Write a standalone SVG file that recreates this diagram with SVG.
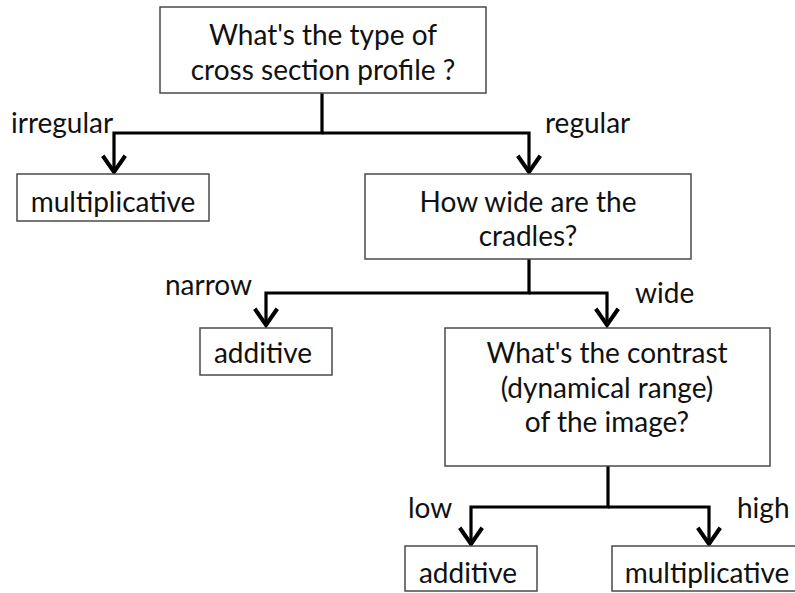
<svg xmlns="http://www.w3.org/2000/svg" width="795" height="593" viewBox="0 0 795 593">
<style>
.box{fill:#fff;stroke:#4a4a4a;stroke-width:1.5}
.t{font-family:Lato,"Open Sans","Liberation Sans",sans-serif;font-size:28px;fill:#111;text-anchor:middle}
.l{font-family:Lato,"Open Sans","Liberation Sans",sans-serif;font-size:28px;fill:#111}
.c{fill:none;stroke:#000;stroke-width:3.2;stroke-linejoin:miter}
</style>
<defs>
<marker id="arr" markerUnits="userSpaceOnUse" markerWidth="30" markerHeight="30" viewBox="-16 -12 20 24" refX="0" refY="0" orient="auto" overflow="visible">
<path d="M-13,-9 L0,0 L-13,9" fill="none" stroke="#000" stroke-width="3.2"/>
</marker>
</defs>
<rect width="795" height="593" fill="#fff"/>
<g id="connectors">
<path class="c" d="M322,93 V133 H114 V172" marker-end="url(#arr)"/>
<path class="c" d="M322,133 H529 V172" marker-end="url(#arr)"/>
<path class="c" d="M529,259 V293 H266 V325" marker-end="url(#arr)"/>
<path class="c" d="M529,293 H607 V325" marker-end="url(#arr)"/>
<path class="c" d="M608,466 V507 H471 V544" marker-end="url(#arr)"/>
<path class="c" d="M608,507 H709 V544" marker-end="url(#arr)"/>
</g>
<g id="labels">
<text class="l" x="11" y="133">irregular</text>
<text class="l" x="545" y="133">regular</text>
<text class="l" x="165" y="295">narrow</text>
<text class="l" x="635" y="303">wide</text>
<text class="l" x="408" y="518">low</text>
<text class="l" x="737" y="518">high</text>
</g>
<g id="q1">
<rect class="box" x="160" y="7" width="326" height="86"/>
<text class="t" x="323" y="45">What's the type of</text>
<text class="t" x="323" y="80">cross section profile ?</text>
</g>
<g id="mult1">
<rect class="box" x="17" y="174" width="192" height="47"/>
<text class="t" x="113" y="212">multiplicative</text>
</g>
<g id="q2">
<rect class="box" x="365" y="174" width="326" height="85"/>
<text class="t" x="528" y="212">How wide are the</text>
<text class="t" x="528" y="246">cradles?</text>
</g>
<g id="add1">
<rect class="box" x="200" y="328" width="132" height="47"/>
<text class="t" x="263" y="363">additive</text>
</g>
<g id="q3">
<rect class="box" x="445" y="328" width="325" height="138"/>
<text class="t" x="607" y="363">What's the contrast</text>
<text class="t" x="607" y="398">(dynamical range)</text>
<text class="t" x="607" y="432">of the image?</text>
</g>
<g id="add2">
<rect class="box" x="405" y="546" width="132" height="45"/>
<text class="t" x="468" y="583">additive</text>
</g>
<g id="mult2">
<rect class="box" x="612" y="546" width="190" height="45"/>
<text class="t" x="707" y="583">multiplicative</text>
</g>
</svg>
